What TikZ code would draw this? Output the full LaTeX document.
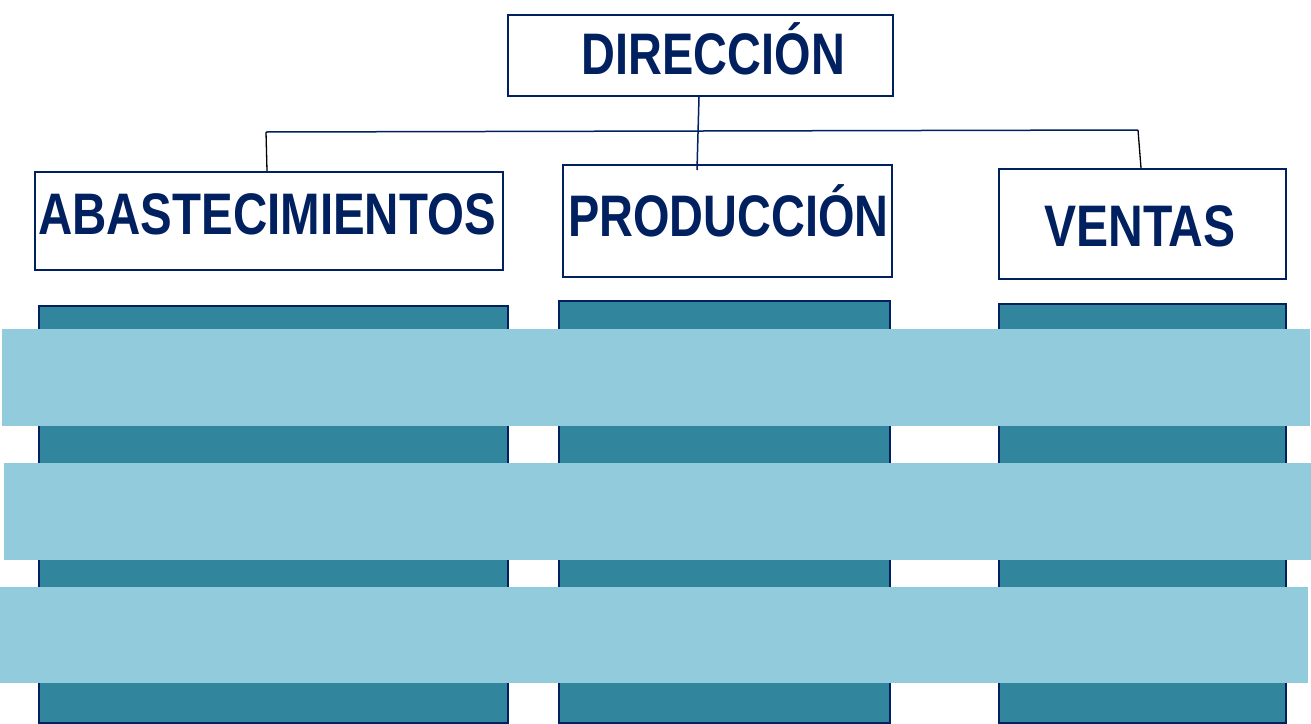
\documentclass[tikz,border=0pt]{standalone}
\usepackage{fontspec}
\setmainfont{Liberation Sans}
\usepackage{graphicx}
\definecolor{navy}{RGB}{0,32,96}
\definecolor{teal}{RGB}{49,133,156}
\definecolor{lightband}{RGB}{146,204,220}
\tikzset{
  hbox/.style={draw=navy, line width=2pt, fill=white, inner sep=0pt, anchor=north west},
  col/.style={draw=navy, line width=2pt, fill=teal, inner sep=0pt, anchor=north west},
  band/.style={fill=lightband, inner sep=0pt, anchor=north west},
  lbl/.style={text=navy, font=\fontsize{58.6}{60}\selectfont\bfseries, inner sep=0pt, anchor=base},
  conn/.style={draw=navy, line width=1.5pt},
  connk/.style={draw=black, line width=1.3pt}
}
\begin{document}
\begin{tikzpicture}[x=1pt,y=-1pt]
\useasboundingbox (0,0) rectangle (1311,723);
% header boxes
\node[hbox, minimum width=385pt, minimum height=81pt] (dir) at (507,14) {};
\node[hbox, minimum width=468pt, minimum height=98pt] (aba) at (34,171) {};
\node[hbox, minimum width=329pt, minimum height=112pt] (pro) at (562,164) {};
\node[hbox, minimum width=287pt, minimum height=110pt] (ven) at (998,168) {};
% labels
\node[lbl] (tdir) at (713.5,74) {\scalebox{0.80}[1]{DIRECCIÓN}};
\node[lbl] (taba) at (267,234) {\scalebox{0.81}[1]{ABASTECIMIENTOS}};
\node[lbl] (tpro) at (728.5,236) {\scalebox{0.80}[1]{PRODUCCIÓN}};
\node[lbl] (tven) at (1140,246) {\scalebox{0.82}[1]{VENTAS}};
% connectors
\coordinate (jl) at (266,132);
\coordinate (jr) at (1138,130);
\coordinate (jm) at (697,170);
\draw[conn] (jl) -- (jr);
\draw[conn] (dir.south -| 699,0) -- (jm);
\draw[connk] (jl) -- (aba.north -| 267,0);
\draw[connk] (jr) -- (ven.north -| 1141,0);
% columns
\node[col, minimum width=469pt, minimum height=417pt] (c1) at (38,305) {};
\node[col, minimum width=331pt, minimum height=422pt] (c2) at (558,300) {};
\node[col, minimum width=287pt, minimum height=419pt] (c3) at (998,303) {};
% bands
\node[band, minimum width=1308pt, minimum height=97pt] (b1) at (2,329) {};
\node[band, minimum width=1307pt, minimum height=97pt] (b2) at (4,463) {};
\node[band, minimum width=1308pt, minimum height=96pt] (b3) at (0,587) {};
\end{tikzpicture}
\end{document}
